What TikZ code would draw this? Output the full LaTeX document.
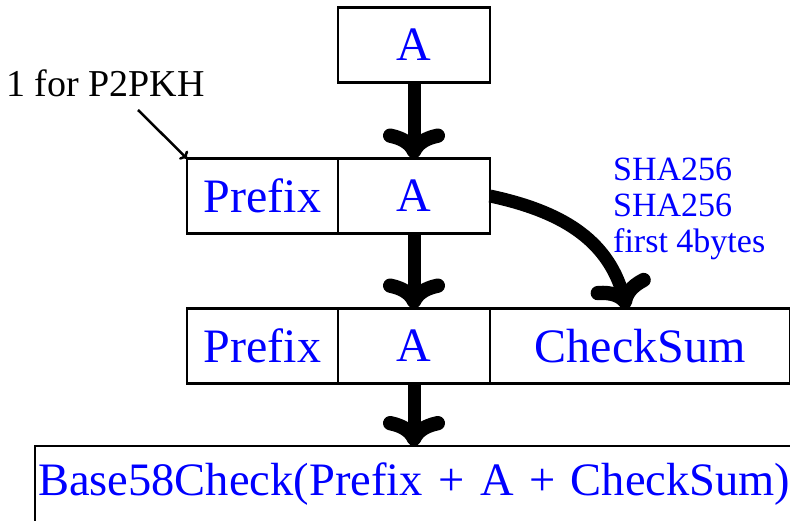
\documentclass[tikz,border=0pt]{standalone}
\usepackage{fontspec}
\setmainfont{Liberation Serif}
\usetikzlibrary{positioning,arrows.meta,calc}
\newcommand{\cellfont}{\fontsize{48}{52}\selectfont}
\newcommand{\notefont}{\fontsize{34}{36}\selectfont}

\begin{document}
\begin{tikzpicture}[x=1pt, y=1pt, node distance=0pt]
	\tikzset{
		mycell/.style={rectangle, draw=black, fill=white, line width=2.5pt, outer sep=0pt, inner sep=0pt, minimum height=75pt, text=blue, font=\cellfont},
		myarrow/.style={-{To[length=30pt,width=62pt,line width=0pt 1.1,round]}, line width=13pt},
		mypointer/.style={-{To[length=6pt,width=12pt]}, line width=2.5pt},
		mylabel/.style={font=\notefont, inner sep=0pt, align=left}
	}
	\useasboundingbox (0,0) rectangle (790,520);
	\clip (0,0) rectangle (790,520);

	\node[mycell, minimum width=152pt] (atop) at (414,475) {A};

	\node[mycell, minimum width=152pt, below=76pt of atop] (amid) {A};
	\node[mycell, minimum width=151pt, left=of amid] (pmid) {Prefix};

	\node[mycell, minimum width=152pt, below=75pt of amid] (alow) {A};
	\node[mycell, minimum width=151pt, left=of alow] (plow) {Prefix};
	\node[mycell, minimum width=300pt, right=of alow] (cslow) {CheckSum};

	\node[mycell, anchor=north west, text width=780pt, align=left, inner xsep=3pt, inner ysep=15pt, font=\fontsize{46.5}{50}\selectfont, text height=34pt, text depth=60pt] (result) at (35,74) {Base58Check(Prefix + A + CheckSum)};

	\node[mylabel, font=\fontsize{38}{40}\selectfont, anchor=base west] (p2pkh) at (6,423) {1 for P2PKH};
	\node[mylabel, text=blue, anchor=north west] (hash) at (613,362) {SHA256\\SHA256\\first 4bytes};

	\coordinate (tail) at ([shift={(132,-13)}]p2pkh.base west);
	\coordinate (cstip) at ([xshift=-13pt]cslow.north);

	\draw[mypointer] (tail) -- (pmid.north west);
	\draw[myarrow] (atop) -- (amid);
	\draw[myarrow] (amid) -- (alow);
	\draw[myarrow] (alow.south) -- (alow.south |- result.north);
	\draw[myarrow] (amid.east) .. controls +(70,-15) and +(-20,70) .. (cstip);
\end{tikzpicture}
\end{document}
